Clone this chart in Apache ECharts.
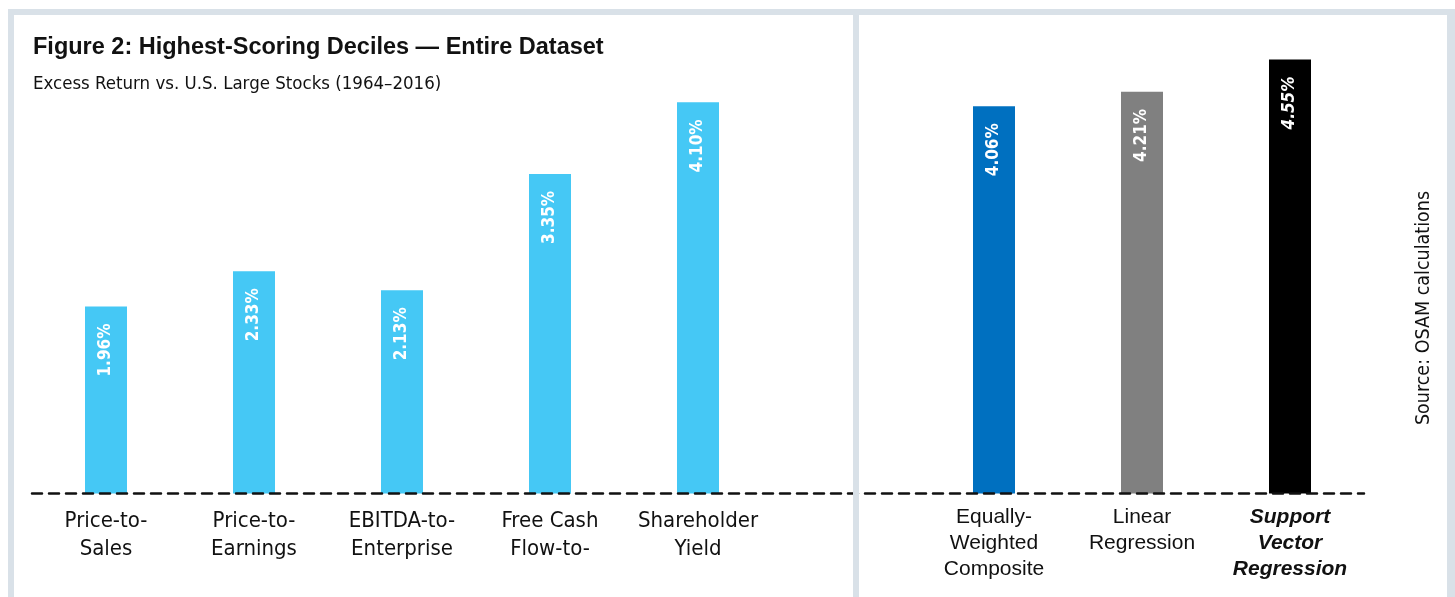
<!DOCTYPE html>
<html><head><meta charset="utf-8">
<script src="https://cdn.jsdelivr.net/npm/echarts@6/dist/echarts.min.js"></script>
<style>html,body{margin:0;padding:0;background:#fff;}#c{width:1455px;height:597px;}</style>
</head><body><div id="c"></div>
<script>
const categories = ['Price-to-\nSales','Price-to-\nEarnings','EBITDA-to-\nEnterprise','Free Cash\nFlow-to-','Shareholder\nYield','','Equally-\nWeighted\nComposite','Linear\nRegression','Support\nVector\nRegression'];
const values = [1.96, 2.33, 2.13, 3.35, 4.10, null, 4.06, 4.21, 4.55];
const titleText = 'Figure 2: Highest-Scoring Deciles — Entire Dataset';
const subtitleText = 'Excess Return vs. U.S. Large Stocks (1964–2016)';
const sourceText = 'Source: OSAM calculations';

const barColors = ['#45C8F5','#45C8F5','#45C8F5','#45C8F5','#45C8F5','#45C8F5','#0070C0','#808080','#000000'];
const emphasized = [false,false,false,false,false,false,false,false,true];
const NARROW = "'DejaVu Sans Condensed',sans-serif";
const WIDE = "'Liberation Sans',Arial,sans-serif";
const FRAME = '#D9E1E8';

const chart = echarts.init(document.getElementById('c'), null, {renderer:'canvas'});
chart.setOption({
  animation:false,
  backgroundColor:'#ffffff',
  grid:{left:32, right:91, top:16.5, bottom:103.5, containLabel:false},
  xAxis:{
    type:'category',
    data: categories.map((c,i)=>({
      value:c,
      textStyle: i>=6 ? {fontFamily:WIDE, fontSize:21, lineHeight:26, fontWeight: emphasized[i]?'bold':'normal', fontStyle: emphasized[i]?'italic':'normal', padding:[-3,0,0,0]} : {}
    })),
    z:3,
    axisLine:{show:true, lineStyle:{color:'#111', width:2.5, type:[10,7]}},
    axisTick:{show:false},
    axisLabel:{interval:0, color:'#111', fontFamily:NARROW, fontSize:22, lineHeight:28, margin:14},
    splitLine:{show:false}
  },
  yAxis:{type:'value', min:0, max:5, show:false, splitLine:{show:false}},
  series:[{
    type:'bar',
    barWidth:42,
    data: values.map((v,i)=>({
      value:v,
      itemStyle:{color:barColors[i]},
      label:{fontStyle: emphasized[i]?'italic':'normal'}
    })),
    label:{
      show:true, position:'insideTop', rotate:90, align:'right', verticalAlign:'middle',
      distance:17, color:'#fff', fontFamily:NARROW, fontWeight:'bold', fontSize:17,
      formatter:p=> p.value==null ? '' : p.value.toFixed(2)+'%'
    }
  }],
  graphic:[
    {type:'rect', z:100, shape:{x:8,y:9,width:1447,height:6}, style:{fill:FRAME}},
    {type:'rect', z:100, shape:{x:8,y:9,width:6,height:600}, style:{fill:FRAME}},
    {type:'rect', z:100, shape:{x:1447,y:9,width:8,height:600}, style:{fill:FRAME}},
    {type:'rect', z:100, shape:{x:853,y:9,width:6,height:600}, style:{fill:FRAME}},
    {type:'text', z:100, x:33, y:48, style:{text:titleText, fill:'#111', font:"bold 23.5px "+WIDE, verticalAlign:'middle'}},
    {type:'text', z:100, x:33, y:84, style:{text:subtitleText, fill:'#111', font:"18.5px "+NARROW, verticalAlign:'middle'}},
    {type:'text', z:100, x:1424, y:308, rotation:Math.PI/2, style:{text:sourceText, fill:'#111', font:"19.5px "+NARROW, align:'center', verticalAlign:'middle'}}
  ]
});
</script></body></html>
